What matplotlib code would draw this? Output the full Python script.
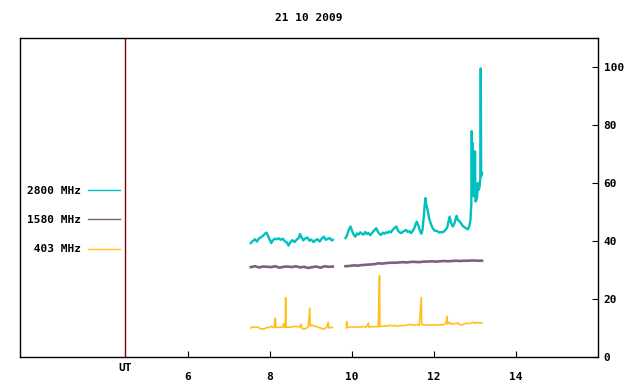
import numpy as np
import matplotlib
matplotlib.use("Agg")
import matplotlib.pyplot as plt
from matplotlib.transforms import IdentityTransform

title = "21 10 2009"
ut_hour = 4.47
xticks = [6, 8, 10, 12, 14]
yticks = [0, 20, 40, 60, 80, 100]

# 2800 MHz flux (hours UT, value)
t2800_a = [7.53, 7.58, 7.63, 7.68, 7.73, 7.78, 7.83, 7.88, 7.91, 7.95, 7.99, 8.03,
           8.07, 8.11, 8.16, 8.21, 8.26, 8.31, 8.36, 8.41, 8.45, 8.50, 8.55, 8.60,
           8.65, 8.70, 8.73, 8.77, 8.81, 8.86, 8.91, 8.96, 9.01, 9.06, 9.11, 9.16,
           9.21, 9.26, 9.31, 9.36, 9.41, 9.46, 9.50, 9.53]
v2800_a = [39.3, 40.0, 40.6, 39.8, 40.9, 41.3, 41.8, 42.6, 42.9, 41.8, 40.5, 39.3,
           40.2, 40.8, 40.6, 40.9, 40.4, 40.8, 39.9, 39.5, 38.4, 39.7, 40.3, 39.6,
           40.5, 41.0, 42.4, 41.2, 40.2, 40.9, 41.2, 40.1, 40.5, 39.6, 40.3, 40.6,
           39.8, 40.8, 41.5, 40.4, 40.8, 41.0, 40.2, 40.4]
t2800_b = [9.84, 9.88, 9.92, 9.96, 10.00, 10.04, 10.08, 10.12, 10.16, 10.20, 10.24,
           10.28, 10.32, 10.36, 10.40, 10.44, 10.48, 10.52, 10.56, 10.59, 10.63, 10.67,
           10.71, 10.75, 10.79, 10.83, 10.87, 10.91, 10.95, 10.99, 11.03, 11.08, 11.12,
           11.16, 11.20, 11.24, 11.28, 11.32, 11.36, 11.40, 11.44, 11.48, 11.52, 11.55,
           11.58, 11.62, 11.66, 11.69, 11.72, 11.75, 11.77, 11.79, 11.81, 11.84, 11.87,
           11.89, 11.93, 11.97, 12.01, 12.05, 12.09, 12.13, 12.17, 12.21, 12.25, 12.29,
           12.32, 12.35, 12.38, 12.42, 12.46, 12.50, 12.55, 12.58, 12.62, 12.66, 12.70,
           12.74, 12.78, 12.82, 12.86, 12.89, 12.91, 12.92, 12.93, 12.94, 12.95, 12.97,
           12.99, 13.00, 13.01, 13.03, 13.05, 13.07, 13.09, 13.11, 13.13, 13.14, 13.15,
           13.17]
v2800_b = [41.0, 42.0, 43.8, 45.0, 43.5, 42.2, 41.5, 42.6, 42.2, 43.0, 42.5,
           42.2, 43.1, 42.4, 42.8, 42.0, 42.6, 43.4, 43.9, 44.4, 43.2, 42.4,
           42.1, 42.9, 42.5, 43.0, 42.8, 43.3, 43.0, 43.8, 44.4, 45.0, 43.6,
           43.0, 42.7, 43.2, 43.5, 43.8, 43.1, 43.4, 42.7, 43.5, 44.4, 45.8,
           46.7, 45.2, 43.4, 42.5, 44.0, 48.5, 52.0, 54.8, 52.5, 51.0, 48.6,
           47.3, 45.6, 44.4, 43.6, 43.5, 43.3, 42.9, 43.1, 43.0, 43.4, 44.0,
           44.6, 46.5, 48.4, 46.0, 45.0, 46.2, 48.7, 47.3, 46.8, 46.1, 45.2,
           44.8, 44.4, 44.0, 45.0, 47.5, 53.0, 77.9, 60.0, 73.8, 56.5, 55.4,
           56.0, 70.9, 53.6, 54.0, 55.0, 60.0, 57.7, 58.5, 62.0, 99.5, 62.3,
           63.5]

# 1580 MHz flux
t1580_a = [7.53, 7.63, 7.73, 7.83, 7.93, 8.03, 8.13, 8.23, 8.33, 8.43, 8.53,
           8.63, 8.73, 8.83, 8.93, 9.03, 9.13, 9.23, 9.33, 9.43, 9.53]
v1580_a = [31.0, 31.3, 30.9, 31.2, 31.1, 31.0, 31.3, 30.8, 31.1, 31.2, 31.0,
           31.3, 30.9, 31.1, 30.7, 31.0, 31.2, 30.8, 31.3, 31.1, 31.2]
t1580_b = [9.84, 9.94, 10.04, 10.14, 10.24, 10.34, 10.44, 10.54, 10.64, 10.74,
           10.84, 10.94, 11.04, 11.14, 11.24, 11.34, 11.44, 11.54, 11.64, 11.74,
           11.84, 11.94, 12.04, 12.14, 12.24, 12.34, 12.44, 12.54, 12.64, 12.74,
           12.84, 12.94, 13.04, 13.17]
v1580_b = [31.3, 31.4, 31.6, 31.5, 31.7, 31.8, 31.9, 32.0, 32.3, 32.2,
           32.4, 32.5, 32.5, 32.6, 32.7, 32.6, 32.8, 32.8, 32.7, 32.9,
           32.9, 33.0, 32.9, 33.0, 33.1, 33.0, 33.1, 33.2, 33.1, 33.2,
           33.2, 33.3, 33.2, 33.2]

# 403 MHz flux
t403_a = [7.53, 7.56, 7.62, 7.68, 7.72, 7.76, 7.82, 7.88, 7.92, 7.97, 8.02, 8.06,
          8.10, 8.13, 8.14, 8.20, 8.26, 8.32, 8.33, 8.34, 8.37, 8.38, 8.39, 8.44,
          8.50, 8.56, 8.62, 8.68, 8.73, 8.76, 8.77, 8.82, 8.88, 8.93, 8.97, 8.98,
          9.02, 9.04, 9.08, 9.14, 9.20, 9.24, 9.28, 9.33, 9.38, 9.42, 9.43, 9.47,
          9.52]
v403_a = [10.0, 10.3, 10.3, 10.3, 10.2, 9.8, 9.6, 9.8, 10.2, 10.1, 10.6, 10.2,
          10.3, 13.4, 10.2, 10.2, 10.2, 10.5, 11.5, 10.3, 10.2, 20.5, 10.3, 10.3,
          10.2, 10.5, 10.5, 10.5, 10.4, 11.3, 10.0, 9.6, 9.9, 10.4, 16.9, 10.6,
          11.0, 10.9, 10.5, 10.5, 10.1, 10.0, 9.6, 9.8, 10.2, 12.0, 10.0, 10.2,
          10.2]
t403_b = [9.86, 9.87, 9.88, 9.92, 9.98, 10.04, 10.10, 10.16, 10.22, 10.28, 10.34,
          10.40, 10.41, 10.46, 10.52, 10.58, 10.64, 10.67, 10.68, 10.74, 10.80,
          10.86, 10.92, 10.98, 11.04, 11.10, 11.16, 11.22, 11.28, 11.34, 11.40,
          11.46, 11.52, 11.58, 11.64, 11.69, 11.70, 11.76, 11.82, 11.88, 11.94,
          12.00, 12.06, 12.12, 12.18, 12.24, 12.28, 12.30, 12.32, 12.33, 12.38,
          12.42, 12.48, 12.54, 12.58, 12.62, 12.68, 12.74, 12.80, 12.86, 12.92,
          12.96, 13.00, 13.06, 13.12, 13.17]
v403_b = [10.0, 12.2, 10.4, 10.2, 10.4, 10.3, 10.4, 10.2, 10.3, 10.5, 10.3,
          11.7, 10.3, 10.5, 10.4, 10.5, 10.4, 28.1, 10.5, 10.6, 10.8,
          10.6, 11.0, 10.7, 10.9, 10.6, 10.8, 10.9, 10.8, 11.0, 11.2,
          11.1, 11.0, 11.1, 11.0, 20.5, 11.2, 11.1, 11.0, 11.1, 11.0,
          11.1, 11.0, 11.1, 11.1, 11.2, 11.5, 12.6, 14.0, 11.3, 12.0,
          11.3, 11.6, 11.4, 11.8, 11.2, 11.0, 11.5, 11.6, 11.5, 11.8,
          12.0, 11.6, 11.9, 11.7, 11.8]


def join(a, b):
    # NaN breaks the line at the data gap
    return np.array(a + [np.nan] + b)


series = [
    ("2800 MHz", t2800_a, t2800_b, v2800_a, v2800_b, "#00C0C0", 1.7),
    ("1580 MHz", t1580_a, t1580_b, v1580_a, v1580_b, "#7F5F80", 1.9),
    (" 403 MHz", t403_a, t403_b, v403_a, v403_b, "#FFC020", 1.2),
]

plt.rcParams["font.family"] = "DejaVu Sans Mono"
plt.rcParams["font.weight"] = "bold"
plt.rcParams["font.size"] = 8

fig = plt.figure(figsize=(6.4, 3.84), dpi=100)
ax = fig.add_axes([20 / 640, 27 / 384, 578 / 640, 319 / 384])

for label, ta, tb, va, vb, color, lw in series:
    ax.plot(join(ta, tb), join(va, vb), color=color, lw=lw, label=label)

ax.axvline(ut_hour, color="#800000", lw=1)
ax.text(ut_hour, -0.033, "UT", transform=ax.get_xaxis_transform(),
        ha="center", va="center", fontweight="bold")

ax.set_xlim(1.9, 16.0)
ax.set_ylim(0, 110)
ax.set_xticks(xticks)
ax.set_yticks(yticks)
ax.tick_params(axis="x", direction="in", length=4, pad=11, bottom=True, top=False)
ax.tick_params(axis="y", direction="in", length=4, pad=4, left=False, right=True,
               labelleft=False, labelright=True)
for s in ax.spines.values():
    s.set_linewidth(1.0)

ax.set_title(title, pad=12, fontweight="bold", fontsize=8)

# legend in pixel coordinates, text left of the line like gnuplot
leg = ax.legend(loc="center right", frameon=False, markerfirst=False,
                handlelength=2.9, handletextpad=0.6, labelspacing=1.75,
                borderpad=0, borderaxespad=0)
leg.set_bbox_to_anchor((120, 164), transform=IdentityTransform())
for line in leg.get_lines():
    line.set_linewidth(1.0)

fig.savefig("out.png", dpi=100)
